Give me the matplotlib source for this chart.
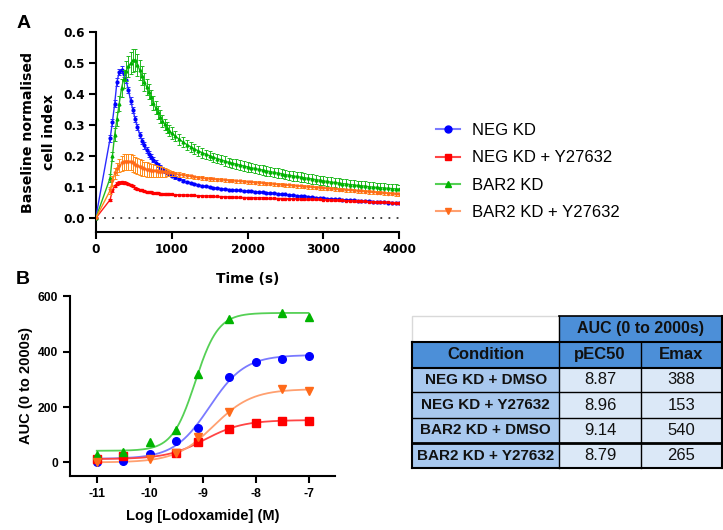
import matplotlib
matplotlib.use("Agg")
import matplotlib.pyplot as plt
import numpy as np
from matplotlib.lines import Line2D
from matplotlib.patches import Rectangle

plt.rcParams['font.family'] = ['Liberation Sans', 'DejaVu Sans']

# ---------------- Panel A data ----------------
time_early = [0, 190, 220, 250, 280, 310, 340, 370, 400, 430, 460, 490, 520, 550, 580,
              610, 640, 670, 700, 730, 760, 790, 820, 850, 880, 910, 940, 970, 1000]
time_tail = [1050, 1100, 1150, 1200, 1250, 1300, 1350, 1400, 1450, 1500,
             1550, 1600, 1650, 1700, 1750, 1800, 1850, 1900, 1950, 2000,
             2050, 2100, 2150, 2200, 2250, 2300, 2350, 2400, 2450, 2500,
             2550, 2600, 2650, 2700, 2750, 2800, 2850, 2900, 2950, 3000,
             3050, 3100, 3150, 3200, 3250, 3300, 3350, 3400, 3450, 3500,
             3550, 3600, 3650, 3700, 3750, 3800, 3850, 3900, 3950, 4000]

neg_kd = [0, 0.258, 0.31, 0.37, 0.44, 0.472, 0.48, 0.466, 0.445, 0.415, 0.38, 0.35, 0.32, 0.295, 0.27,
          0.25, 0.235, 0.22, 0.208, 0.198, 0.189, 0.18, 0.173, 0.166, 0.159, 0.153, 0.147, 0.142, 0.137,
          0.132, 0.127, 0.122, 0.118, 0.114, 0.111, 0.108, 0.105, 0.103, 0.101,
          0.099, 0.097, 0.096, 0.094, 0.093, 0.092, 0.091, 0.090, 0.089, 0.088,
          0.087, 0.086, 0.085, 0.084, 0.083, 0.082, 0.081, 0.079, 0.078, 0.077,
          0.076, 0.075, 0.073, 0.072, 0.071, 0.070, 0.068, 0.067, 0.066, 0.065,
          0.064, 0.063, 0.062, 0.061, 0.060, 0.059, 0.058, 0.058, 0.057, 0.056,
          0.055, 0.055, 0.054, 0.053, 0.053, 0.052, 0.051, 0.051, 0.050, 0.050]
neg_kd_err = [0, 0.012, 0.012, 0.012, 0.012, 0.01, 0.01, 0.01, 0.01, 0.01, 0.01, 0.01, 0.01, 0.01, 0.01,
              0.01, 0.01, 0.009, 0.009, 0.008, 0.008, 0.007, 0.007, 0.006, 0.006, 0.006, 0.005, 0.005, 0.005,
              0.004, 0.004, 0.004, 0.004, 0.004, 0.004, 0.003, 0.003, 0.003, 0.003,
              0.003, 0.003, 0.003, 0.003, 0.003, 0.003, 0.003, 0.003, 0.003, 0.003,
              0.003, 0.003, 0.003, 0.003, 0.003, 0.003, 0.003, 0.003, 0.003, 0.003,
              0.003, 0.003, 0.003, 0.003, 0.003, 0.003, 0.003, 0.003, 0.003, 0.003,
              0.003, 0.003, 0.003, 0.003, 0.003, 0.003, 0.003, 0.003, 0.003, 0.003,
              0.003, 0.003, 0.003, 0.003, 0.003, 0.003, 0.003, 0.003, 0.003, 0.003]

neg_kd_y = [0, 0.06, 0.09, 0.105, 0.112, 0.115, 0.116, 0.115, 0.114, 0.111, 0.107, 0.103, 0.099, 0.096, 0.093,
            0.090, 0.088, 0.086, 0.085, 0.084, 0.083, 0.082, 0.081, 0.080, 0.079, 0.079, 0.078, 0.078, 0.077,
            0.076, 0.076, 0.075, 0.075, 0.074, 0.074, 0.073, 0.073, 0.072, 0.072,
            0.071, 0.071, 0.070, 0.070, 0.069, 0.069, 0.068, 0.068, 0.067, 0.067,
            0.067, 0.066, 0.066, 0.066, 0.065, 0.065, 0.065, 0.064, 0.064, 0.064,
            0.063, 0.063, 0.063, 0.062, 0.062, 0.062, 0.061, 0.061, 0.061, 0.060,
            0.060, 0.059, 0.059, 0.058, 0.058, 0.057, 0.057, 0.056, 0.056, 0.055,
            0.055, 0.054, 0.054, 0.053, 0.053, 0.052, 0.052, 0.051, 0.051, 0.050]
neg_kd_y_err = [0, 0.004, 0.004, 0.004, 0.004, 0.004, 0.004, 0.004, 0.004, 0.004, 0.003, 0.003, 0.003, 0.003, 0.003,
                0.003, 0.003, 0.003, 0.003, 0.003, 0.003, 0.003, 0.003, 0.003, 0.003, 0.003, 0.003, 0.003, 0.003,
                0.002, 0.002, 0.002, 0.002, 0.002, 0.002, 0.002, 0.002, 0.002, 0.002,
                0.002, 0.002, 0.002, 0.002, 0.002, 0.002, 0.002, 0.002, 0.002, 0.002,
                0.002, 0.002, 0.002, 0.002, 0.002, 0.002, 0.002, 0.002, 0.002, 0.002,
                0.002, 0.002, 0.002, 0.002, 0.002, 0.002, 0.002, 0.002, 0.002, 0.002,
                0.002, 0.002, 0.002, 0.002, 0.002, 0.002, 0.002, 0.002, 0.002, 0.002,
                0.002, 0.002, 0.002, 0.002, 0.002, 0.002, 0.002, 0.002, 0.002, 0.002]

bar2_kd = [0, 0.13, 0.20, 0.27, 0.32, 0.37, 0.42, 0.45, 0.475, 0.49, 0.50, 0.51, 0.51, 0.495, 0.478,
           0.46, 0.44, 0.425, 0.408, 0.39, 0.372, 0.356, 0.342, 0.328, 0.315, 0.303, 0.292, 0.283, 0.275,
           0.265, 0.255, 0.246, 0.238, 0.231, 0.224, 0.218, 0.212, 0.207, 0.202,
           0.197, 0.193, 0.189, 0.185, 0.181, 0.178, 0.175, 0.172, 0.169, 0.166,
           0.163, 0.161, 0.158, 0.156, 0.153, 0.151, 0.148, 0.146, 0.144, 0.141,
           0.139, 0.137, 0.135, 0.133, 0.131, 0.129, 0.127, 0.125, 0.123, 0.121,
           0.119, 0.117, 0.116, 0.114, 0.112, 0.111, 0.109, 0.108, 0.106, 0.105,
           0.104, 0.102, 0.101, 0.100, 0.099, 0.098, 0.097, 0.096, 0.095, 0.094]
bar2_kd_err = [0, 0.012, 0.015, 0.02, 0.022, 0.025, 0.028, 0.03, 0.032, 0.035, 0.036, 0.037, 0.036, 0.035, 0.033,
               0.03, 0.028, 0.026, 0.024, 0.023, 0.022, 0.021, 0.02, 0.02, 0.019, 0.019, 0.018, 0.018, 0.018,
               0.017, 0.017, 0.017, 0.016, 0.016, 0.016, 0.016, 0.016, 0.015, 0.015,
               0.015, 0.015, 0.015, 0.015, 0.015, 0.015, 0.015, 0.015, 0.015, 0.015,
               0.015, 0.015, 0.015, 0.015, 0.015, 0.015, 0.015, 0.015, 0.015, 0.015,
               0.015, 0.015, 0.015, 0.015, 0.015, 0.015, 0.015, 0.015, 0.015, 0.015,
               0.015, 0.015, 0.015, 0.015, 0.015, 0.015, 0.015, 0.015, 0.015, 0.015,
               0.015, 0.015, 0.015, 0.015, 0.015, 0.015, 0.015, 0.015, 0.015, 0.015]

bar2_kd_y = [0, 0.09, 0.12, 0.145, 0.16, 0.17, 0.177, 0.181, 0.183, 0.183, 0.181, 0.177, 0.173, 0.169, 0.165,
             0.162, 0.159, 0.157, 0.155, 0.154, 0.153, 0.152, 0.151, 0.150, 0.149, 0.148, 0.147, 0.146, 0.145,
             0.143, 0.141, 0.139, 0.137, 0.135, 0.133, 0.131, 0.130, 0.128, 0.127,
             0.126, 0.125, 0.124, 0.123, 0.122, 0.121, 0.120, 0.119, 0.118, 0.117,
             0.116, 0.115, 0.114, 0.113, 0.112, 0.111, 0.110, 0.109, 0.108, 0.107,
             0.106, 0.105, 0.104, 0.103, 0.102, 0.101, 0.100, 0.099, 0.098, 0.097,
             0.096, 0.095, 0.094, 0.093, 0.092, 0.091, 0.090, 0.089, 0.088, 0.087,
             0.086, 0.085, 0.084, 0.083, 0.082, 0.081, 0.080, 0.079, 0.078, 0.077]
bar2_kd_y_err = [0, 0.01, 0.015, 0.018, 0.02, 0.022, 0.024, 0.025, 0.026, 0.026, 0.026, 0.026, 0.026, 0.026, 0.025,
                 0.025, 0.024, 0.024, 0.023, 0.022, 0.021, 0.02, 0.019, 0.018, 0.016, 0.014, 0.012, 0.01, 0.009,
                 0.008, 0.007, 0.006, 0.006, 0.005, 0.005, 0.005, 0.005, 0.005, 0.005,
                 0.005, 0.005, 0.005, 0.005, 0.005, 0.005, 0.005, 0.005, 0.005, 0.005,
                 0.005, 0.005, 0.005, 0.005, 0.005, 0.005, 0.005, 0.005, 0.005, 0.005,
                 0.005, 0.005, 0.005, 0.005, 0.005, 0.005, 0.005, 0.005, 0.005, 0.005,
                 0.005, 0.005, 0.005, 0.005, 0.005, 0.005, 0.005, 0.005, 0.005, 0.005,
                 0.005, 0.005, 0.005, 0.005, 0.005, 0.005, 0.005, 0.005, 0.005, 0.005]

series_labels = ["NEG KD", "NEG KD + Y27632", "BAR2 KD", "BAR2 KD + Y27632"]

# ---------------- Panel B data ----------------
log_conc = [-11, -10.5, -10, -9.5, -9.08, -8.5, -8, -7.5, -7]
auc_neg = [3, 6, 29, 77, 123, 307, 363, 375, 386]
auc_neg_y = [12, 23, None, 34, 75, 122, 141, 151, 151]
auc_bar2 = [26, 38, 75, 117, 319, 517, None, 541, 526]
auc_bar2_y = [0, None, 11, 35, 90, 183, None, 264, 259]

# fit parameters (pEC50 and Emax from table; bottoms / hill slopes estimated)
fit_pec50 = [8.87, 8.96, 9.14, 8.79]
fit_emax = [388, 153, 540, 265]
fit_bottom = [13, 12, 42, 0]
fit_hill = [1.3, 1.2, 2.0, 1.2]

table_conditions = ["NEG KD + DMSO", "NEG KD + Y27632", "BAR2 KD + DMSO", "BAR2 KD + Y27632"]
table_pec50 = ["8.87", "8.96", "9.14", "8.79"]
table_emax = ["388", "153", "540", "265"]

# ---------------- styles ----------------
line_cols_A = ['#2b2bff', '#ff1a1a', '#22b922', '#ff8c1a']
mark_cols = ['#0000ff', '#ff0000', '#00b400', '#ff6a1a']
line_cols_B = ['#7a7aff', '#ff4545', '#55d055', '#ffa070']
markers = ['o', 's', '^', 'v']
FA = ['DejaVu Sans']

W, H = 723, 530
fig = plt.figure(figsize=(W / 100, H / 100), dpi=100)

def fx(px):
    return px / W

def fy(py):
    return 1 - py / H

# ---- Panel A axes ----
axA = fig.add_axes([fx(95.7), fy(232.3), fx(399.3) - fx(95.7), fy(32.3) - fy(232.3)])
times = time_early + time_tail
seriesA = [(neg_kd, neg_kd_err), (neg_kd_y, neg_kd_y_err), (bar2_kd, bar2_kd_err), (bar2_kd_y, bar2_kd_y_err)]
order = [1, 3, 0, 2]
for i in order:
    vals, errs = seriesA[i]
    axA.errorbar(times, vals, yerr=errs, color=line_cols_A[i], ecolor=line_cols_A[i],
                 lw=1.0, elinewidth=0.7, capsize=1.6, capthick=0.7,
                 marker=markers[i], ms=2.0, mfc=mark_cols[i], mec=mark_cols[i], zorder=3 + i)
axA.plot([0, 4000], [0, 0], color='#333333', lw=1.3, ls=(0, (1, 3.5)), zorder=2)
axA.set_xlim(0, 4000)
axA.set_ylim(-0.045, 0.6)
axA.set_xticks([0, 1000, 2000, 3000, 4000])
axA.set_yticks([0.0, 0.1, 0.2, 0.3, 0.4, 0.5, 0.6])
axA.set_yticklabels(["0.0", "0.1", "0.2", "0.3", "0.4", "0.5", "0.6"])
for sp in ['top', 'right']:
    axA.spines[sp].set_visible(False)
for sp in ['left', 'bottom']:
    axA.spines[sp].set_linewidth(1.5)
axA.tick_params(direction='out', length=5, width=1.5, labelsize=8.7, pad=3)
for lab in axA.get_xticklabels() + axA.get_yticklabels():
    lab.set_fontweight('bold')
    lab.set_family(FA)
axA.set_xlabel("Time (s)", fontsize=9.9, fontweight='bold', labelpad=11, family=FA)
axA.set_ylabel("Baseline normalised\ncell index", fontsize=10.2, fontweight='bold', labelpad=5,
               linespacing=1.6, family=FA)

# legend
handles = [Line2D([0], [0], color=line_cols_B[i], lw=1.5, marker=markers[i], ms=5,
                  mfc=mark_cols[i], mec=mark_cols[i]) for i in range(4)]
fig.legend(handles, series_labels, loc='upper left', bbox_to_anchor=(fx(436), fy(123)),
           frameon=False, fontsize=12, handlelength=1.45, handletextpad=0.7,
           labelspacing=0.74, borderpad=0, borderaxespad=0)

# ---- Panel B axes ----
axB = fig.add_axes([fx(70.3), fy(475.7), fx(335) - fx(70.3), fy(296.3) - fy(475.7)])
xfit = np.linspace(-11, -7, 300)
seriesB = [auc_neg, auc_neg_y, auc_bar2, auc_bar2_y]
for i in order:
    bot, top, pec, h = fit_bottom[i], fit_emax[i], fit_pec50[i], fit_hill[i]
    yfit = bot + (top - bot) / (1 + 10 ** ((-pec - xfit) * h))
    axB.plot(xfit, yfit, color=line_cols_B[i], lw=1.3, zorder=2 + i)
for i in order:
    xs = [x for x, v in zip(log_conc, seriesB[i]) if v is not None]
    ys = [v for v in seriesB[i] if v is not None]
    axB.plot(xs, ys, ls='none', marker=markers[i], ms=5.5, color=mark_cols[i], zorder=7 + i)
axB.set_xlim(-11.5, -6.5)
axB.set_ylim(-48, 600)
axB.set_xticks([-11, -10, -9, -8, -7])
axB.set_xticklabels(["-11", "-10", "-9", "-8", "-7"])
axB.set_yticks([0, 200, 400, 600])
for sp in ['top', 'right']:
    axB.spines[sp].set_visible(False)
for sp in ['left', 'bottom']:
    axB.spines[sp].set_linewidth(1.5)
axB.tick_params(direction='out', length=5, width=1.5, labelsize=8.7, pad=4)
for lab in axB.get_xticklabels() + axB.get_yticklabels():
    lab.set_fontweight('bold')
axB.set_xlabel("Log [Lodoxamide] (M)", fontsize=10.5, fontweight='bold', labelpad=6)
axB.set_ylabel("AUC (0 to 2000s)", fontsize=10.5, fontweight='bold', labelpad=3)

# panel letters
fig.text(fx(24), fy(23), "A", fontsize=14, fontweight='bold', ha='center', va='center')
fig.text(fx(23), fy(280), "B", fontsize=14, fontweight='bold', ha='center', va='center')

# ---- Table ----
col_x = [412, 559.3, 640.7, 721.7]
row_y = [316, 341.7, 367.7, 392.3, 417.7, 443, 468.3]
c_head = '#4c8fd8'
c_first = '#a8c8ee'
c_body = '#dbe8f7'

def rect(x0, y0, x1, y1, fc, ec='none', lw=0):
    fig.patches.append(Rectangle((fx(x0), fy(y1)), fx(x1) - fx(x0), fy(y0) - fy(y1),
                                 transform=fig.transFigure, facecolor=fc, edgecolor=ec, lw=lw))

def hline(y, x0, x1, lw=1.5, color='black'):
    fig.add_artist(Line2D([fx(x0), fx(x1)], [fy(y), fy(y)], color=color, lw=lw,
                          transform=fig.transFigure, solid_capstyle='projecting'))

def vline(x, y0, y1, lw=1.5, color='black'):
    fig.add_artist(Line2D([fx(x), fx(x)], [fy(y0), fy(y1)], color=color, lw=lw,
                          transform=fig.transFigure, solid_capstyle='projecting'))

rect(col_x[0], row_y[0], col_x[1], row_y[1], 'white', ec='#d9d9d9', lw=1.0)
rect(col_x[1], row_y[0], col_x[3], row_y[1], c_head)
rect(col_x[0], row_y[1], col_x[3], row_y[2], c_head)
for r in range(4):
    rect(col_x[0], row_y[r + 2], col_x[1], row_y[r + 3], c_first)
    rect(col_x[1], row_y[r + 2], col_x[3], row_y[r + 3], c_body)

hline(row_y[0], col_x[1], col_x[3], lw=1.2)
hline(row_y[1], col_x[0], col_x[3], lw=1.5)
hline(row_y[2], col_x[0], col_x[3], lw=1.5)
hline(row_y[3], col_x[0], col_x[3], lw=1.0)
hline(row_y[4], col_x[0], col_x[3], lw=1.0)
hline(row_y[5], col_x[0], col_x[3], lw=2.0)
hline(row_y[6], col_x[0], col_x[3], lw=1.5)
vline(col_x[0], row_y[1], row_y[6], lw=1.5)
vline(col_x[1], row_y[0], row_y[6], lw=1.0)
vline(col_x[2], row_y[1], row_y[6], lw=1.0)
vline(col_x[3], row_y[0], row_y[6], lw=1.5)

def ctext(x0, x1, y0, y1, s, bold=False, size=11.5):
    fig.text(fx((x0 + x1) / 2), fy((y0 + y1) / 2), s, ha='center', va='center',
             fontsize=size, fontweight='bold' if bold else 'normal', color='#111111')

ctext(col_x[1], col_x[3], row_y[0], row_y[1], "AUC (0 to 2000s)", bold=True, size=11.5)
ctext(col_x[0], col_x[1], row_y[1], row_y[2], "Condition", bold=True, size=12)
ctext(col_x[1], col_x[2], row_y[1], row_y[2], "pEC50", bold=True, size=12)
ctext(col_x[2], col_x[3], row_y[1], row_y[2], "Emax", bold=True, size=12)
for r in range(4):
    ctext(col_x[0], col_x[1], row_y[r + 2], row_y[r + 3], table_conditions[r], bold=True, size=11)
    ctext(col_x[1], col_x[2], row_y[r + 2], row_y[r + 3], table_pec50[r], size=12)
    ctext(col_x[2], col_x[3], row_y[r + 2], row_y[r + 3], table_emax[r], size=12)

fig.savefig("out.png", dpi=100)
